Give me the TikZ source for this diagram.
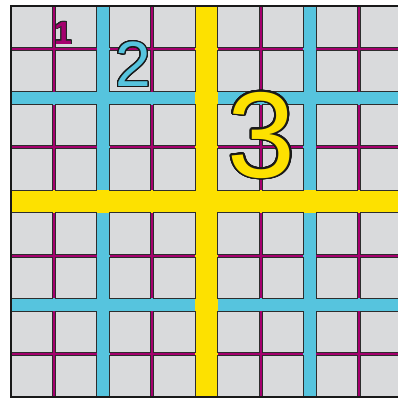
\documentclass[tikz,border=0pt]{standalone}
\usepackage{fontspec}
\setmainfont{Liberation Sans}
\usepackage{xcolor}
\usepackage{contour}
\usepackage{tikz}
\usetikzlibrary{positioning}
\contournumber{32}

\definecolor{cellgray}{RGB}{217,218,220}
\definecolor{celledge}{RGB}{45,45,45}
\definecolor{linemag}{RGB}{165,0,110}
\definecolor{bandcyan}{RGB}{86,196,222}
\definecolor{bandyellow}{RGB}{253,225,0}

\begin{document}
\begin{tikzpicture}[x=1pt, y=-1pt,
  cell/.style={fill=cellgray, draw=celledge, line width=0.9pt},
  digit/.style={inner sep=0pt, anchor=center}]
  \useasboundingbox (0,0) rectangle (398,398);
  % 黄色底
  \fill[bandyellow] (11,6) rectangle ++(390.9,390.9);
  % 青色四块
  \foreach \qx in {0,206.7}
    \foreach \qy in {0,206.7}
      \fill[bandcyan] ({11+\qx},{6+\qy}) rectangle ++(184.2,184.2);
  % 品红 2x2 组
  \foreach \gx in {0,98.6,206.7,305.3}
    \foreach \gy in {0,98.6,206.7,305.3}
      \fill[linemag] ({11+\gx},{6+\gy}) rectangle ++(85.6,85.6);
  % 灰色格子
  \foreach \cx in {0,44.3,98.6,142.9,206.7,251,305.3,349.6}
    \foreach \cy in {0,44.3,98.6,142.9,206.7,251,305.3,349.6}
      \draw[cell] ({11+\cx},{6+\cy}) rectangle ++(41.3,41.3);
  % 外框
  \draw[black!90, line width=1.6pt] (10.8,5.8) rectangle (402.1,397.1);
  % 数字
  \node[digit, text=linemag] (num1) at (63,33.5)
    {\fontsize{32}{32}\selectfont\bfseries\contourlength{0.8pt}\contour{black!85}{1}};
  \node[digit, text=bandcyan] (num2) at (133,65)
    {\fontsize{64}{64}\selectfont\contourlength{1.2pt}\contour{black!90}{2}};
  \node[digit, text=bandyellow] (num3) at (261.5,136)
    {\fontsize{122}{122}\selectfont\contourlength{1.8pt}\contour{black!90}{3}};
\end{tikzpicture}
\end{document}
